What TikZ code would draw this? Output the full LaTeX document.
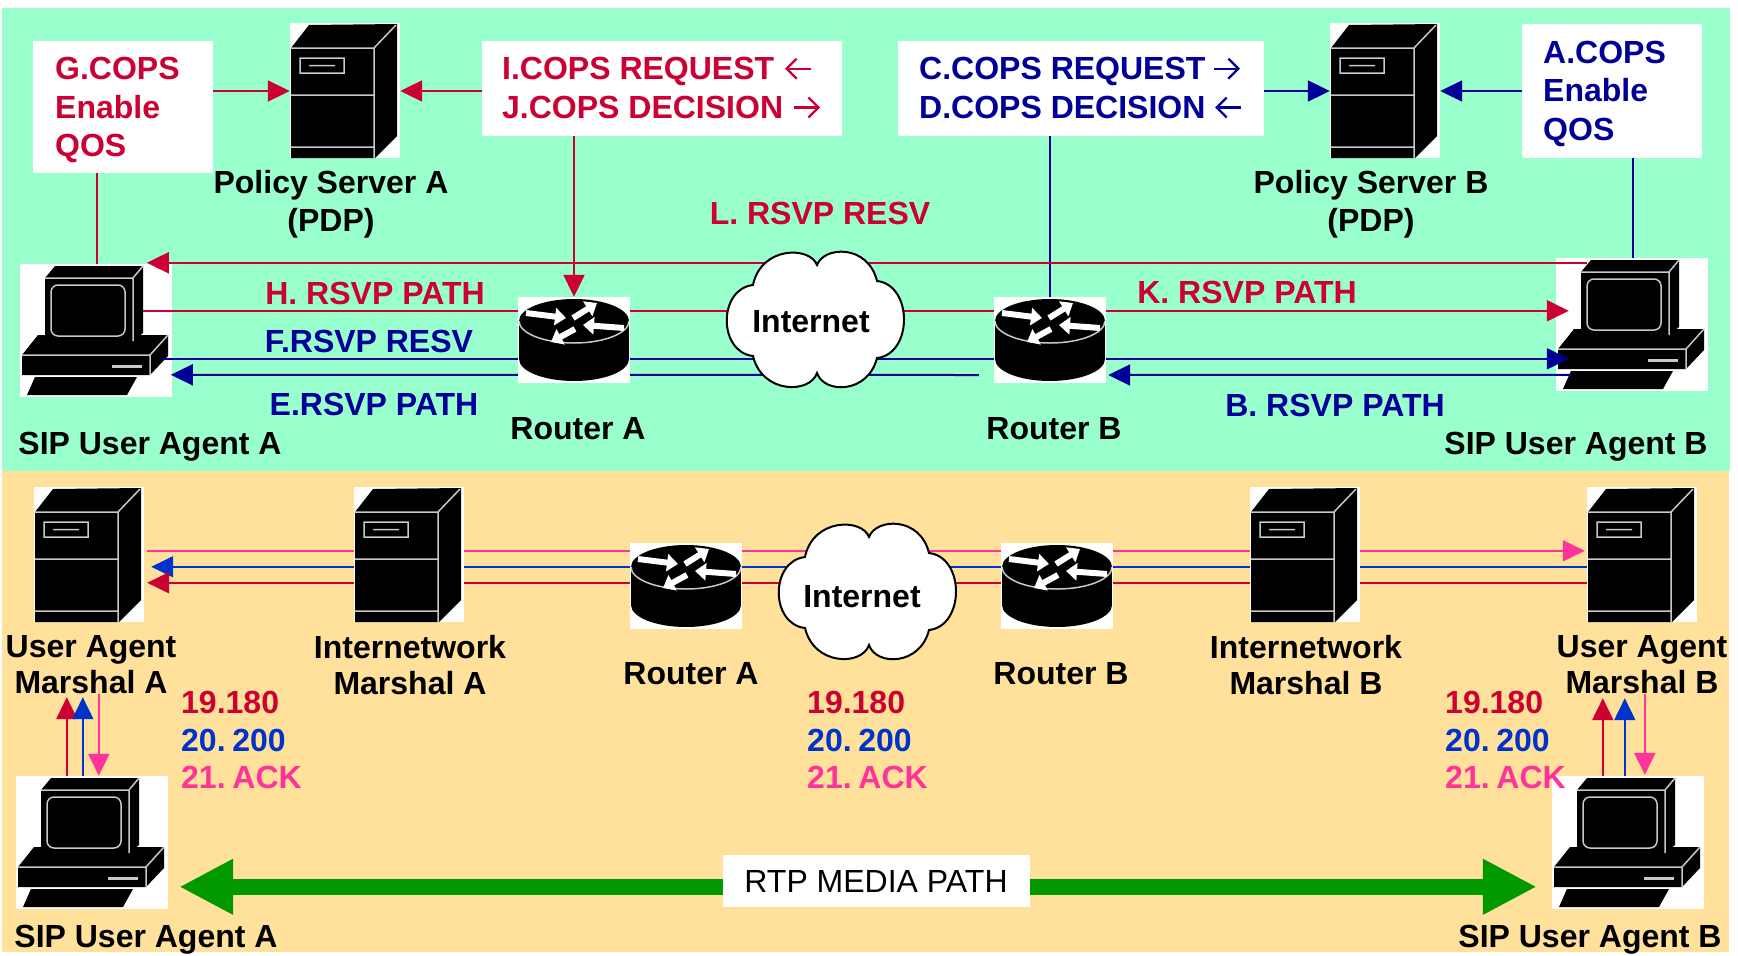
\documentclass[tikz,border=0pt]{standalone}
\usepackage{fontspec}
\setmainfont{Liberation Sans}
\usetikzlibrary{arrows.meta,calc}

\definecolor{mint}{RGB}{153,255,204}
\definecolor{sand}{RGB}{255,225,155}
\definecolor{crim}{RGB}{204,0,51}
\definecolor{navy}{RGB}{0,0,153}
\definecolor{royal}{RGB}{0,51,204}
\definecolor{rose}{RGB}{255,51,153}
\definecolor{media}{RGB}{0,153,0}
\definecolor{iconedge}{RGB}{200,200,200}

\pgfdeclarelayer{bg}
\pgfdeclarelayer{wires}
\pgfsetlayers{bg,wires,main}

% narrow gap used in the SIP message numbers
\newcommand\numgap{\hspace{0.21em}}

\tikzset{
  iconline/.style={draw=iconedge, line width=1.5pt},
  % tower server, 110 x 135
  server/.pic={
    \fill[white] (0,0) rectangle (110,135);
    \fill (1,25) -- (19,2) -- (107,1) -- (107,113) -- (85,135) -- (1,135) -- cycle;
    \draw[iconline] (1,25) -- (84,25) -- (84,135) (84,25) -- (106,2)
      (1,72) -- (84,72) (1,124) -- (84,124)
      (10,35) rectangle (54,50) (19,42.5) -- (45,42.5);
    \node[inner sep=0pt, minimum width=110pt, minimum height=135pt] (-box) at (55,67.5) {};
  },
  % desktop computer, 152 x 133
  pc/.pic={
    \fill[white] (0,0) rectangle (152,133);
    \fill (2,91) -- (18,71) -- (148,71) -- (148,92) -- (130,111) -- (2,111) -- cycle;
    \draw[iconline] (2,91) -- (130,91) -- (130,111) (130,91) -- (148,71);
    \draw[iconline, line width=3pt] (92,102) -- (122,102);
    \fill (15,113) -- (117,113) -- (107,131) -- (7,131) -- cycle;
    \fill (25,14) -- (35,2) -- (123,2) -- (123,69) -- (113,77) -- (25,77) -- cycle;
    \draw[iconline] (25,14) -- (113,14) -- (113,77) (113,14) -- (123,2);
    \draw[iconline, rounded corners=7pt] (31,21) rectangle (105,72);
    \node[inner sep=0pt, minimum width=152pt, minimum height=133pt] (-box) at (76,66.5) {};
  },
  % router puck, 112 x 86
  router/.pic={
    \fill[white] (0,0) rectangle (112,86);
    \fill (56,62) ellipse [x radius=55pt, y radius=22pt];
    \fill (1,24) rectangle (111,62);
    \fill (56,24) ellipse [x radius=55pt, y radius=22pt];
    \draw[iconline] (1,24) arc [start angle=180, end angle=360, x radius=55pt, y radius=22pt];
    \begin{scope}[white, line width=6pt, -{Triangle[length=11pt,width=17pt]}]
      \draw (8,16) -- (48,21);
      \draw (55,21) -- (79,6);
      \draw (106,31) -- (65,28);
      \draw (57,32) -- (33,45);
    \end{scope}
    \node[inner sep=0pt, minimum width=112pt, minimum height=86pt] (-box) at (56,43) {};
  },
  % cloud, centred on the pic origin
  cloud/.pic={
    \filldraw[fill=white, draw=black, line width=2pt]
      (1,-55) .. controls (8,-74) and (52,-76) .. (61,-39)
      .. controls (97,-35) and (97,34) .. (61,38)
      .. controls (52,74) and (8,74) .. (1,53)
      .. controls (-6,74) and (-54,74) .. (-63,36)
      .. controls (-98,32) and (-98,-31) .. (-63,-35)
      .. controls (-55,-74) and (-6,-74) .. cycle;
    \node[inner sep=0pt, minimum width=180pt, minimum height=135pt] (-box) at (0,0) {};
  },
  lbl/.style={font=\bfseries\fontsize{32}{37.5}\selectfont, inner sep=0pt},
  seq/.style={lbl, align=left, anchor=north west},
  boxtext/.style={font=\bfseries\fontsize{32}{38.5}\selectfont, inner sep=0pt,
    align=left, anchor=north west},
  pair/.style={font=\bfseries\fontsize{32}{36}\selectfont, inner sep=0pt, align=center, anchor=north},
  msgbox/.style={fill=white, anchor=north west, inner sep=0pt},
  wire/.style={line width=2pt},
  tipped/.style={wire, -{Triangle[length=22pt,width=21pt]}},
  glyph/.style={line width=2.3pt, -{Straight Barb[length=10pt,width=20pt]}},
}

\begin{document}
\begin{tikzpicture}[x=1pt, y=-1pt]
\useasboundingbox (0,0) rectangle (1738,956);

\begin{pgfonlayer}{bg}
  \fill[white] (0,0) rectangle (1738,956);
  \fill[mint] (2,8) rectangle (1730,471);
  \fill[sand] (2,471) rectangle (1729,952);
  % end stations and policy servers
  \pic (pcA) at (20,264) {pc};
  \pic (pcB) at (1556,258) {pc};
  \pic (psA) at (290,23) {server};
  \pic (psB) at (1330,23) {server};
  \pic (uaA) at (34,487) {server};
  \pic (uaB) at (1587,487) {server};
  \pic (pcA2) at (16,776) {pc};
  \pic (pcB2) at (1552,776) {pc};
\end{pgfonlayer}

% network elements in the middle
\pic (rtA) at (518,297) {router};
\pic (rtB) at (994,297) {router};
\pic (netT) at (816,320) {cloud};
\pic (imA) at (354,487) {server};
\pic (imB) at (1250,487) {server};
\pic (rtA2) at (630,543) {router};
\pic (rtB2) at (1001,543) {router};
\pic (netD) at (868,592) {cloud};

% COPS message boxes
\node[msgbox, minimum width=180pt, minimum height=132pt] (gbox) at (33,41) {};
\node[boxtext, text=crim] (gtxt) at ($(gbox.north west)+(22,16.3)$) {G.COPS\\Enable\\QOS};
\node[msgbox, minimum width=360pt, minimum height=95pt] (ibox) at (482,41) {};
\node[boxtext, text=crim] (itxt) at ($(ibox.north west)+(20,16.3)$) {I.COPS REQUEST\\J.COPS DECISION};
\node[msgbox, minimum width=366pt, minimum height=95pt] (cbox) at (898,41) {};
\node[boxtext, text=navy] (ctxt) at ($(cbox.north west)+(21,16.3)$) {C.COPS REQUEST\\D.COPS DECISION};
\node[msgbox, minimum width=180pt, minimum height=134pt] (abox) at (1522,24) {};
\node[boxtext, text=navy] (atxt) at ($(abox.north west)+(21,16.6)$) {A.COPS\\Enable\\QOS};
% direction marks after the COPS message names
\draw[crim, glyph] ($(ibox.north west)+(329,27.7)$) -- ++(-26,0);
\draw[crim, glyph] ($(ibox.north west)+(312,66.5)$) -- ++(26,0);
\draw[navy, glyph] ($(cbox.north west)+(316,27.7)$) -- ++(26,0);
\draw[navy, glyph] ($(cbox.north west)+(343,66.5)$) -- ++(-26,0);

\begin{pgfonlayer}{wires}
  \coordinate (copsrow) at (0,91);
  \draw[crim, tipped] (gbox.east |- copsrow) -- (psA-box.west |- copsrow);
  \draw[crim, tipped] (ibox.west |- copsrow) -- (psA-box.east |- copsrow);
  \draw[navy, tipped] (cbox.east |- copsrow) -- (psB-box.west |- copsrow);
  \draw[navy, tipped] (abox.west |- copsrow) -- (psB-box.east |- copsrow);
  \draw[crim, tipped] (ibox.south -| rtA-box.north) -- (rtA-box.north);
  \draw[navy, wire] (cbox.south -| rtB-box.north) -- (rtB-box.north);
  \draw[crim, wire] ($(gbox.south west)+(64,0)$) coordinate (gdrop) -- (gdrop |- pcA-box.north);
  \draw[navy, wire] ($(abox.south west)+(111,0)$) coordinate (adrop) -- (adrop |- pcB-box.north);
  % RSVP signalling
  \draw[crim, tipped] ($(pcB-box.north west)+(31,5)$) -- ($(pcA-box.north west)+(127,-1)$);
  \draw[crim, tipped] ($(pcA-box.north west)+(123,47)$) -- ($(pcB-box.north west)+(13,53)$);
  \draw[navy, tipped] ($(pcA-box.north west)+(143,95)$) -- ($(pcB-box.north west)+(13,101)$);
  \draw[navy, tipped] ($(rtB-box.west)+(-15,35)$) -- ($(pcA-box.north west)+(151,111)$);
  \draw[navy, tipped] ($(pcB-box.north west)+(16,117)$) -- ($(rtB-box.east)+(2,35)$);
  % SIP between the marshals
  \draw[rose, tipped] ($(uaA-box.north east)+(3,64)$) -- ($(uaB-box.north west)+(-2,64)$);
  \draw[royal, tipped] ($(uaB-box.north west)+(0,80)$) -- ($(uaA-box.north east)+(7,80)$);
  \draw[crim, tipped] ($(uaB-box.north west)+(0,96)$) -- ($(uaA-box.north east)+(3,96)$);
  % SIP between user agents and their marshals
  \draw[crim, tipped] ($(pcA2-box.north west)+(51,0)$) -- ($(uaA-box.south west)+(33,75)$);
  \draw[royal, tipped] ($(pcA2-box.north west)+(67,0)$) -- ($(uaA-box.south west)+(49,75)$);
  \draw[rose, tipped] ($(uaA-box.south west)+(65,72)$) -- ($(pcA2-box.north west)+(83,0)$);
  \draw[crim, tipped] ($(pcB2-box.north west)+(51,0)$) -- ($(uaB-box.south west)+(16,76)$);
  \draw[royal, tipped] ($(pcB2-box.north west)+(73,0)$) -- ($(uaB-box.south west)+(38,76)$);
  \draw[rose, tipped] ($(uaB-box.south west)+(58,72)$) -- ($(pcB2-box.north west)+(93,-1)$);
  % media stream
  \draw[media, line width=16pt, {Triangle[length=54pt,width=52pt]}-{Triangle[length=54pt,width=52pt]}]
    ($(pcA2-box.north east)+(11,111)$) -- ($(pcB2-box.north west)+(-15,111)$);
\end{pgfonlayer}

\node[fill=white, minimum width=307pt, minimum height=52pt, inner sep=0pt,
  font=\fontsize{32}{37.5}\selectfont] (rtp) at (876,881) {RTP MEDIA PATH};

% upper labels
\node[lbl, text=crim, anchor=base] (labL) at (820,224) {L. RSVP RESV};
\node[lbl, text=crim, anchor=base] (labH) at (375,304) {H. RSVP PATH};
\node[lbl, text=navy, anchor=base] (labF) at (369,352) {F.RSVP RESV};
\node[lbl, text=navy, anchor=base] (labE) at (374,415) {E.RSVP PATH};
\node[lbl, text=crim, anchor=base] (labK) at (1247,303) {K. RSVP PATH};
\node[lbl, text=navy, anchor=base] (labB) at (1335,416) {B. RSVP PATH};
\node[lbl, anchor=base] (nmRA) at (578,439) {Router A};
\node[lbl, anchor=base] (nmRB) at (1054,439) {Router B};
\node[lbl, anchor=base] (nmUA) at (150,454) {SIP User Agent A};
\node[lbl, anchor=base] (nmUB) at (1576,454) {SIP User Agent B};
\node[lbl, align=center, anchor=north] (nmPA) at (331,170.4) {Policy Server A\\(PDP)};
\node[lbl, align=center, anchor=north] (nmPB) at (1371,170.4) {Policy Server B\\(PDP)};
\node[lbl, anchor=base] (txT) at (811,332) {Internet};

% lower labels
\node[pair] (nmUMA) at (91,635.4) {User Agent\\Marshal A};
\node[pair] (nmIMA) at (410,635.4) {Internetwork\\Marshal A};
\node[pair] (nmIMB) at (1306,635.4) {Internetwork\\Marshal B};
\node[pair] (nmUMB) at (1642,635.4) {User Agent\\Marshal B};
\node[lbl, anchor=base] (nmRA2) at (691,684) {Router A};
\node[lbl, anchor=base] (nmRB2) at (1061,684) {Router B};
\node[lbl, anchor=base] (txD) at (862,607) {Internet};
\node[seq] (msgA) at (181,691.4)
  {\textcolor{crim}{19.180}\\\textcolor{royal}{20.\numgap200}\\\textcolor{rose}{21.\numgap ACK}};
\node[seq] (msgM) at (807,691.4)
  {\textcolor{crim}{19.180}\\\textcolor{royal}{20.\numgap200}\\\textcolor{rose}{21.\numgap ACK}};
\node[seq] (msgB) at (1445,691.4)
  {\textcolor{crim}{19.180}\\\textcolor{royal}{20.\numgap200}\\\textcolor{rose}{21.\numgap ACK}};
\node[lbl, anchor=base] (nmUA2) at (146,947) {SIP User Agent A};
\node[lbl, anchor=base] (nmUB2) at (1590,947) {SIP User Agent B};
\end{tikzpicture}
\end{document}
